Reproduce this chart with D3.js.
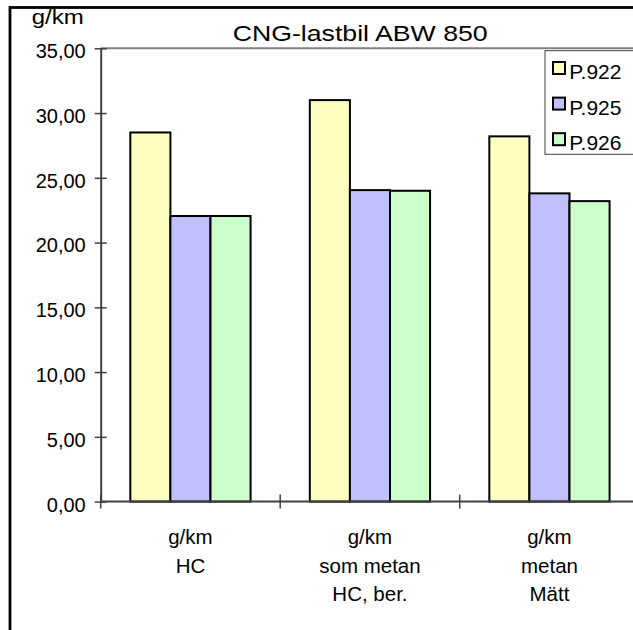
<!DOCTYPE html>
<html>
<head>
<meta charset="utf-8">
<script src="https://cdn.jsdelivr.net/npm/d3@7"></script>
<style>
  html, body { margin: 0; padding: 0; background: #fff; overflow: hidden; }
  svg { display: block; font-family: "Liberation Sans", Arial, sans-serif; }
</style>
</head>
<body>
<svg id="chart" width="633" height="630"></svg>
<script>
// Emission data, CNG truck ABW 850 (g/km)
const categories = ["HC", "som metan HC, ber.", "metan Mätt"];
const categoryLines = [
  ["g/km", "HC"],
  ["g/km", "som metan", "HC, ber."],
  ["g/km", "metan", "Mätt"]
];
const seriesNames = ["P.922", "P.925", "P.926"];
const p922 = [28.5, 31.0, 28.2];
const p925 = [22.05, 24.05, 23.8];
const p926 = [22.05, 24.0, 23.2];
const seriesValues = [p922, p925, p926];
const seriesColors = ["#FFFFC0", "#C0C0FF", "#CCFFCC"];
const yTicks = [0, 5, 10, 15, 20, 25, 30, 35];
const yTickLabels = ["0,00", "5,00", "10,00", "15,00", "20,00", "25,00", "30,00", "35,00"];

const svg = d3.select("#chart");

// Outer chart frame (extends past the right/bottom edges)
svg.append("rect")
  .attr("x", 10).attr("y", 7.5)
  .attr("width", 700).attr("height", 700)
  .attr("fill", "none").attr("stroke", "#000").attr("stroke-width", 2.8);

const plotLeft = 100.7, plotRight = 639.2, plotTop = 48.3, plotBottom = 501.6;

const x = d3.scaleBand().domain(categories).range([plotLeft, plotRight]).padding(0);
const gap = x.bandwidth() * 0.165;
const xInner = d3.scaleBand().domain(seriesNames).range([gap, x.bandwidth() - gap]).padding(0);
const y = d3.scaleLinear().domain([0, 35]).range([plotBottom, plotTop]);

// Plot area top border
svg.append("line")
  .attr("x1", plotLeft).attr("x2", 700)
  .attr("y1", y(35)).attr("y2", y(35))
  .attr("stroke", "#808080").attr("stroke-width", 2);

// Bars
const groups = svg.append("g").selectAll("g")
  .data(categories)
  .join("g")
  .attr("transform", d => `translate(${x(d)},0)`);

groups.selectAll("rect")
  .data((c, ci) => seriesNames.map((s, si) => ({ s, si, v: seriesValues[si][ci] })))
  .join("rect")
  .attr("x", d => xInner(d.s))
  .attr("width", xInner.bandwidth())
  .attr("y", d => y(d.v))
  .attr("height", d => y(0) - y(d.v))
  .attr("fill", d => seriesColors[d.si])
  .attr("stroke", "#000")
  .attr("stroke-width", 2);

// Y axis
const yAxis = d3.axisLeft(y)
  .tickValues(yTicks)
  .tickFormat((d, i) => yTickLabels[i])
  .tickSizeInner(6).tickSizeOuter(0).tickPadding(9);
const gy = svg.append("g").attr("transform", `translate(${plotLeft},0)`).call(yAxis);
gy.select(".domain").attr("stroke", "#404040").attr("stroke-width", 2);
gy.selectAll(".tick line").attr("x1", -6).attr("x2", 6).attr("stroke", "#404040").attr("stroke-width", 1.5);
gy.selectAll(".tick text")
  .attr("font-size", 20).attr("fill", "#000")
  .attr("font-family", "'Liberation Sans', Arial, sans-serif")
  .attr("dy", "0.47em");

// X axis
const xAxis = d3.axisBottom(x).tickValues([]).tickSizeOuter(0);
const gx = svg.append("g").attr("transform", `translate(0,${plotBottom})`).call(xAxis);
gx.select(".domain").attr("d", `M${plotLeft},0H${plotRight}`).attr("stroke", "#404040").attr("stroke-width", 2);
// category boundary ticks
const boundaries = categories.map(c => x(c));
gx.selectAll(".bound").data(boundaries).join("line")
  .attr("class", "bound")
  .attr("x1", d => d).attr("x2", d => d)
  .attr("y1", -7).attr("y2", 7)
  .attr("stroke", "#404040").attr("stroke-width", 1.5);

// Category labels
categories.forEach((c, ci) => {
  const cx = x(c) + x.bandwidth() / 2;
  const t = svg.append("text")
    .attr("x", cx).attr("y", 544.3)
    .attr("text-anchor", "middle")
    .attr("font-size", 20.5).attr("fill", "#000");
  categoryLines[ci].forEach((line, li) => {
    t.append("tspan").attr("x", cx).attr("y", 544.3 + li * 28.2).text(line);
  });
});

// Unit label
svg.append("text")
  .attr("x", 31.7).attr("y", 24.3)
  .attr("font-size", 21).attr("fill", "#000")
  .attr("textLength", 52).attr("lengthAdjust", "spacingAndGlyphs")
  .text("g/km");

// Title
svg.append("text")
  .attr("x", 232.7).attr("y", 41)
  .attr("font-size", 22.5).attr("fill", "#000")
  .attr("textLength", 255).attr("lengthAdjust", "spacingAndGlyphs")
  .text("CNG-lastbil ABW 850");

// Legend
const legend = svg.append("g");
legend.append("rect")
  .attr("x", 545).attr("y", 50.7)
  .attr("width", 120).attr("height", 103.6)
  .attr("fill", "#fff").attr("stroke", "#404040").attr("stroke-width", 1);
const rows = legend.selectAll("g.row").data(seriesNames).join("g")
  .attr("class", "row")
  .attr("transform", (d, i) => `translate(0,${i * 35.6})`);
rows.append("rect")
  .attr("x", 553).attr("y", 62)
  .attr("width", 12).attr("height", 12)
  .attr("fill", (d, i) => seriesColors[i])
  .attr("stroke", "#000").attr("stroke-width", 2);
rows.append("text")
  .attr("x", 569.3).attr("y", 79)
  .attr("font-size", 21).attr("fill", "#000")
  .text(d => d);
</script>
</body>
</html>
